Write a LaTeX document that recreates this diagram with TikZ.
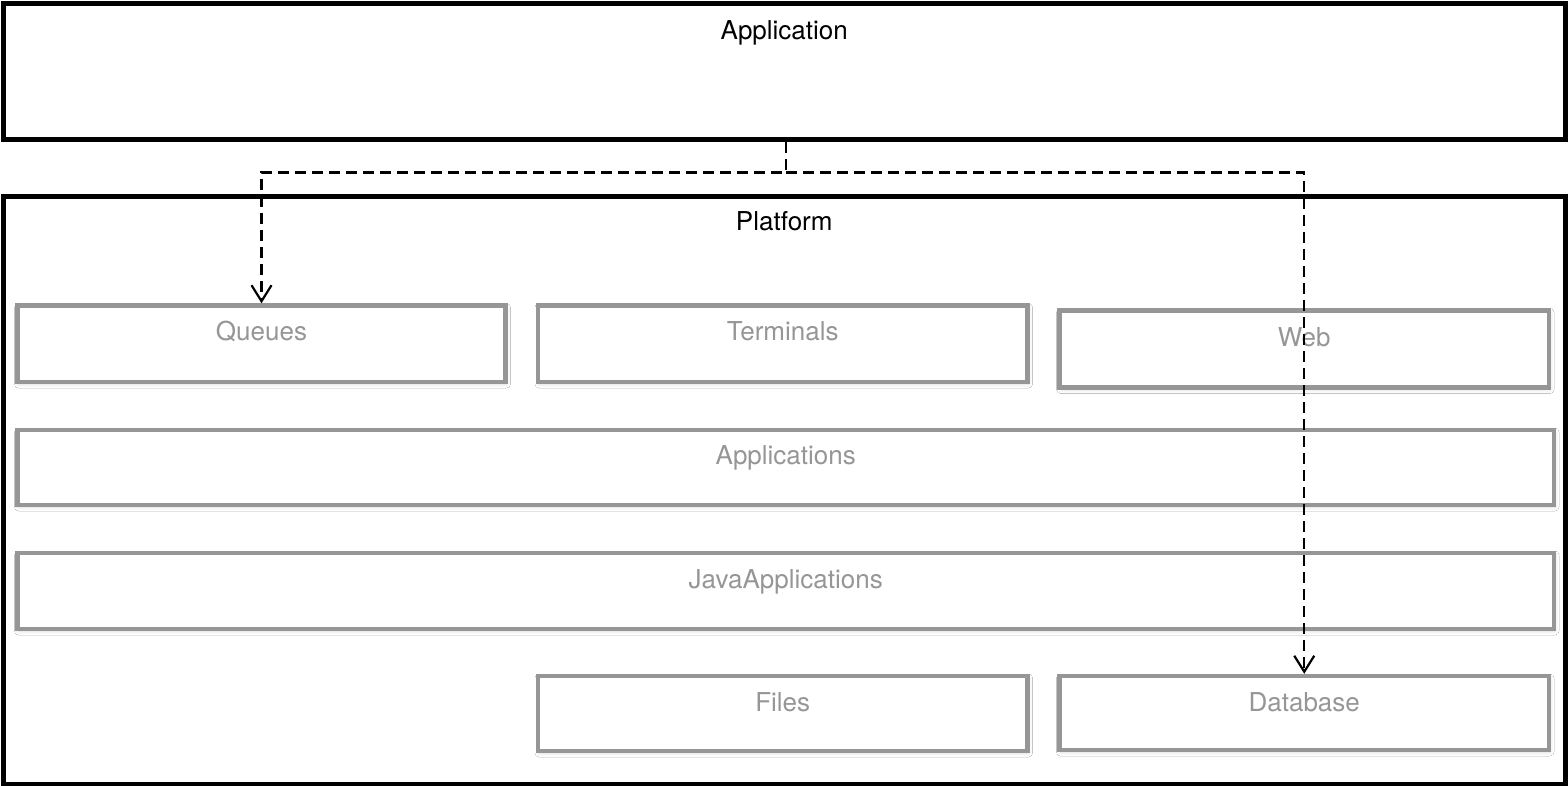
\documentclass[tikz,border=0pt]{standalone}
\usepackage{fontspec}
\setmainfont{TeX Gyre Heros}
\usetikzlibrary{arrows.meta,positioning,shadows.blur}
\definecolor{boxgray}{HTML}{969696}
\tikzset{>={Straight Barb[length=8pt,width=10pt]}}
\tikzset{
	layer/.style={draw=black, line width=2.5pt, fill=white, inner sep=0pt},
	part/.style={draw=boxgray, line width=2.2pt, fill=white, inner sep=0pt,
		blur shadow={shadow xshift=0.5pt, shadow yshift=-1pt, shadow opacity=14, shadow blur radius=2pt, shadow blur steps=8}},
	layertext/.style={anchor=base, text=black, font=\fontsize{13pt}{15pt}\selectfont},
	parttext/.style={anchor=base, text=boxgray, font=\fontsize{13pt}{15pt}\selectfont},
	dep/.style={->, line width=1.1pt, dash pattern=on 5.5pt off 3pt}
}
\begin{document}
\begin{tikzpicture}[x=0.5pt, y=-0.5pt]
		\useasboundingbox (0,0) rectangle (1568,786);
		% layers
		\node[layer, minimum width=780.75pt, minimum height=68.25pt] (app) at (784.25,71.75) {};
		\node[layertext] (apptext) at ([yshift=-19.25pt]app.north) {Application};
		\node[layer, minimum width=780.75pt, minimum height=293.75pt] (platform) at (784.25,490.25) {};
		\node[layertext] (platformtext) at ([yshift=-18.25pt]platform.north) {Platform};
		% platform parts
		\node[part, minimum width=244pt, minimum height=38.25pt] (queues) at (261.5,343.75) {};
		\node[parttext] (queuestext) at ([yshift=-18.75pt]queues.north) {Queues};
		\node[part, minimum width=244.75pt, minimum height=38.25pt] (terminals) at (782.75,343.75) {};
		\node[parttext] (terminalstext) at ([yshift=-18.75pt]terminals.north) {Terminals};
		\node[part, minimum width=244.75pt, minimum height=38.5pt] (web) at (1304.25,349) {};
		\node[parttext] (webtext) at ([yshift=-19.25pt]web.north) {Web};
		\node[part, minimum width=768.25pt, minimum height=37.5pt] (apps) at (785.75,467.5) {};
		\node[parttext] (appstext) at ([yshift=-18.5pt]apps.north) {Applications};
		\node[part, minimum width=768.25pt, minimum height=38pt] (javaapps) at (785.75,591) {};
		\node[parttext] (javaappstext) at ([yshift=-19pt]javaapps.north) {JavaApplications};
		\node[part, minimum width=244.75pt, minimum height=37.5pt] (files) at (782.75,713.5) {};
		\node[parttext] (filestext) at ([yshift=-19pt]files.north) {Files};
		\node[part, minimum width=244.75pt, minimum height=37pt] (database) at (1304.25,713) {};
		\node[parttext] (databasetext) at ([yshift=-19pt]database.north) {Database};
		% dependencies
		\coordinate (fork) at ([xshift=0.75pt, yshift=-15pt]app.south);
		\draw[dep] ([xshift=0.75pt]app.south) -- (fork) -| (queues.north);
		\draw[dep] (fork) -| (database.north);
	\end{tikzpicture}
\end{document}
